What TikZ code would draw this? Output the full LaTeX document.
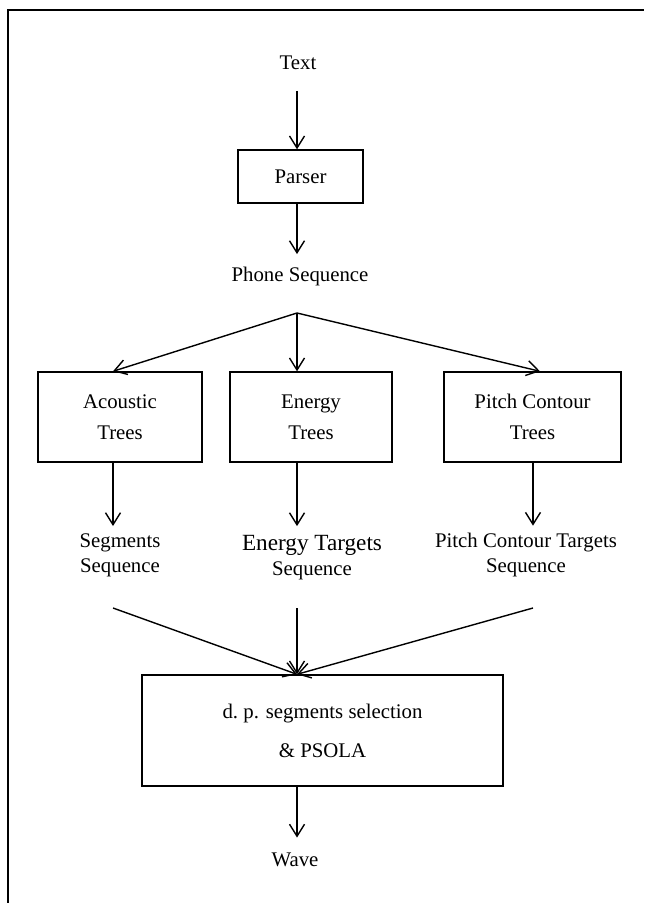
\documentclass[tikz,border=0pt]{standalone}
\usepackage{fontspec}
\setmainfont{Liberation Serif}
\usetikzlibrary{arrows.meta,positioning,calc}

\tikzset{
  blk/.style={draw, line width=0.7pt, inner sep=0pt, align=center},
  lbl/.style={inner sep=0pt, align=center},
  arr/.style={line width=0.7pt, -{Straight Barb[length=6pt,width=7.5pt]}},
}

\begin{document}
\begin{tikzpicture}[x=0.5pt,y=-0.5pt,font=\fontsize{10.4}{15.5}\selectfont]
    \useasboundingbox (0,0) rectangle (644,903);
    % frame
    \draw[line width=1pt] (8,903) -- (8,10) -- (644,10);

    % Input, parser and phone sequence
    \node[lbl] (txt) at (298,62.5) {Text};
    \node[blk, minimum width=62.5pt, minimum height=26.5pt] (parser) at (300.5,176.5) {Parser};
    \node[lbl] (phone) at (300,276.5) {Phone Sequence};
    \coordinate (split) at (297,313);

    % Three trees
    \node[blk, minimum width=82pt, minimum height=45pt] (acoustic) at (120,417) {Acoustic\\Trees};
    \node[blk, minimum width=81pt, minimum height=45pt] (energy) at (311,417) {Energy\\Trees};
    \node[blk, minimum width=88.5pt, minimum height=45pt] (pitch) at (532.5,417) {Pitch Contour\\Trees};

    % Targets
    \node[lbl, font=\fontsize{10.4}{12.5}\selectfont] (segseq) at (120,555) {Segments\\Sequence};
    \node[lbl, font=\fontsize{10.4}{12.2}\selectfont] (enseq) at (312,557.5) {{\fontsize{11.6}{12.5}\selectfont Energy Targets}\\Sequence};
    \node[lbl, font=\fontsize{10.4}{12.5}\selectfont] (pcseq) at (526,555) {Pitch Contour Targets\\Sequence};
    \coordinate (in1) at (113,608);
    \coordinate (in2) at (297,608);
    \coordinate (in3) at (533,608);

    % Selection and output
    \node[blk, minimum width=180.5pt, minimum height=55.5pt, font=\fontsize{10.4}{19.5}\selectfont] (dp) at (322.5,730.5) {d.\ p. segments selection\\\& PSOLA};
    \node[lbl] (wave) at (295,859.5) {Wave};

    \draw[arr, shorten <=10.5pt] (txt.south -| split) -- (parser.north -| split);
    \draw[arr, shorten >=6.3pt] (parser.south -| split) -- (phone.north -| split);
    \draw[arr] (split) -- (acoustic.north -| in1);
    \draw[arr] (split) -- (energy.north -| split);
    \draw[arr] (split) -- ([xshift=3.75pt]pitch.north);
    \draw[arr, shorten >=3.5pt] (acoustic.south -| in1) -- (segseq.north -| in1);
    \draw[arr, shorten >=4.5pt] (energy.south -| split) -- (enseq.north -| split);
    \draw[arr, shorten >=3.5pt] (pitch.south -| in3) -- (pcseq.north -| in3);
    \draw[arr] (in1) -- (dp.north -| in2);
    \draw[arr] (in2) -- (dp.north -| in2);
    \draw[arr] (in3) -- (dp.north -| in2);
    \draw[arr, shorten >=7.3pt] (dp.south -| in2) -- (wave.north -| in2);
\end{tikzpicture}
\end{document}
